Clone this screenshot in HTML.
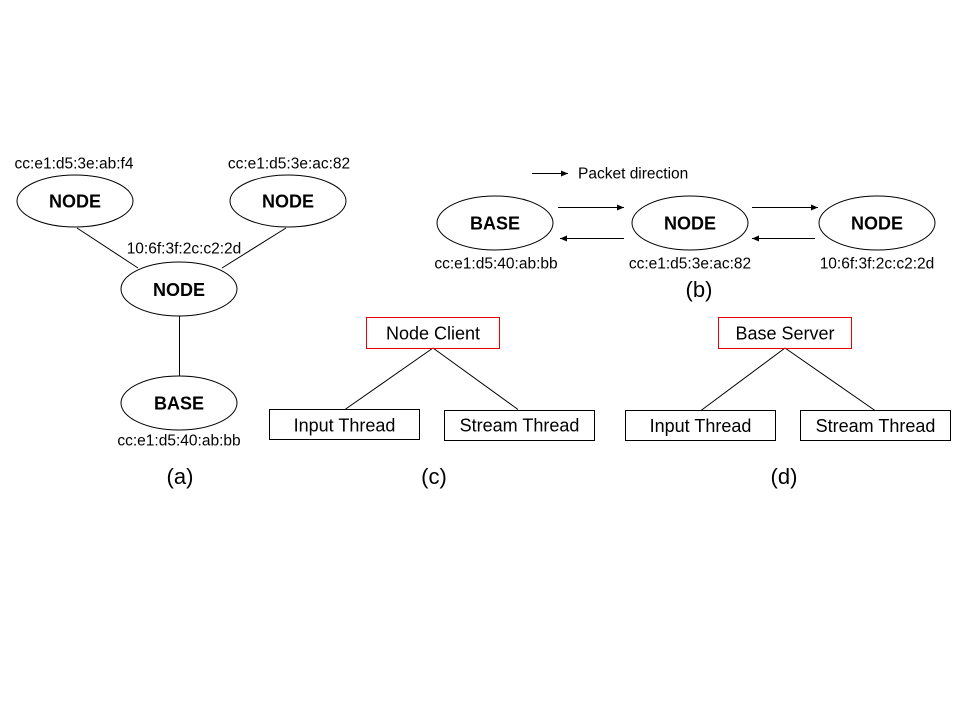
<!DOCTYPE html>
<html><head><meta charset="utf-8"><style>
html,body{margin:0;padding:0;background:#fff;}
svg{display:block;}
text{font-family:"Liberation Sans",Arial,sans-serif;fill:#000;}
.m{font-size:15.5px;}
.b{font-size:18px;font-weight:bold;}
.t{font-size:18px;}
.c{font-size:22px;}
</style></head><body>
<svg width="960" height="720" viewBox="0 0 960 720" xmlns="http://www.w3.org/2000/svg">
<defs>
<marker id="ah" markerWidth="8" markerHeight="6" refX="7" refY="3" orient="auto" markerUnits="userSpaceOnUse">
<path d="M0,0 L7,3 L0,6 z" fill="#000"/>
</marker>
</defs>
<g fill="none" stroke="#000" stroke-width="1">
<!-- (a) -->
<line x1="77" y1="228" x2="138" y2="268"/>
<line x1="286" y1="228" x2="222" y2="268"/>
<line x1="179.5" y1="316" x2="179.5" y2="376"/>
<ellipse cx="75" cy="201" rx="58" ry="26" fill="#fff"/>
<ellipse cx="288" cy="201" rx="58" ry="26" fill="#fff"/>
<ellipse cx="179" cy="289" rx="58" ry="27" fill="#fff"/>
<ellipse cx="179" cy="403" rx="58" ry="27" fill="#fff"/>
<!-- (b) -->
<ellipse cx="495" cy="223" rx="58" ry="27"/>
<ellipse cx="690" cy="223" rx="58" ry="27"/>
<ellipse cx="877" cy="223" rx="58" ry="27"/>
<line x1="532" y1="173.5" x2="568" y2="173.5" marker-end="url(#ah)"/>
<line x1="558" y1="207.5" x2="624" y2="207.5" marker-end="url(#ah)"/>
<line x1="624" y1="238.5" x2="560" y2="238.5" marker-end="url(#ah)"/>
<line x1="752" y1="207.5" x2="818" y2="207.5" marker-end="url(#ah)"/>
<line x1="815" y1="238.5" x2="752" y2="238.5" marker-end="url(#ah)"/>
<!-- (c) -->
<line x1="433" y1="348" x2="345" y2="409.5"/>
<line x1="433" y1="348" x2="518" y2="409.5"/>
<rect x="366.5" y="317.5" width="133" height="31" stroke="#e00"/>
<rect x="269.5" y="409.5" width="150" height="30"/>
<rect x="444.5" y="410.5" width="150" height="30"/>
<!-- (d) -->
<line x1="785" y1="348" x2="701" y2="410.5"/>
<line x1="785" y1="348" x2="875" y2="410.5"/>
<rect x="718.5" y="317.5" width="133" height="31" stroke="#e00"/>
<rect x="625.5" y="410.5" width="150" height="30"/>
<rect x="800.5" y="410.5" width="150" height="30"/>
</g>
<!-- (a) text -->
<text class="m" x="74" y="168.5" text-anchor="middle">cc:e1:d5:3e:ab:f4</text>
<text class="m" x="289" y="168.5" text-anchor="middle">cc:e1:d5:3e:ac:82</text>
<text class="b" x="75" y="207.5" text-anchor="middle">NODE</text>
<text class="b" x="288" y="207.5" text-anchor="middle">NODE</text>
<text class="m" x="184" y="253.5" text-anchor="middle">10:6f:3f:2c:c2:2d</text>
<text class="b" x="179" y="296" text-anchor="middle">NODE</text>
<text class="b" x="179" y="409.5" text-anchor="middle">BASE</text>
<text class="m" x="179" y="445.5" text-anchor="middle">cc:e1:d5:40:ab:bb</text>
<text class="c" x="180" y="484" text-anchor="middle">(a)</text>
<!-- (b) text -->
<text class="m" x="578" y="178.5">Packet direction</text>
<text class="b" x="495" y="229.5" text-anchor="middle">BASE</text>
<text class="b" x="690" y="229.5" text-anchor="middle">NODE</text>
<text class="b" x="877" y="229.5" text-anchor="middle">NODE</text>
<text class="m" x="496" y="268.5" text-anchor="middle">cc:e1:d5:40:ab:bb</text>
<text class="m" x="690" y="268.5" text-anchor="middle">cc:e1:d5:3e:ac:82</text>
<text class="m" x="877" y="268.5" text-anchor="middle">10:6f:3f:2c:c2:2d</text>
<text class="c" x="699" y="297" text-anchor="middle">(b)</text>
<!-- (c) text -->
<text class="t" x="433" y="339.5" text-anchor="middle">Node Client</text>
<text class="t" x="344.5" y="431.5" text-anchor="middle">Input Thread</text>
<text class="t" x="519.5" y="431.5" text-anchor="middle">Stream Thread</text>
<text class="c" x="434" y="484" text-anchor="middle">(c)</text>
<!-- (d) text -->
<text class="t" x="785" y="339.5" text-anchor="middle">Base Server</text>
<text class="t" x="700.5" y="432" text-anchor="middle">Input Thread</text>
<text class="t" x="875.5" y="432" text-anchor="middle">Stream Thread</text>
<text class="c" x="784" y="484" text-anchor="middle">(d)</text>
</svg>
</body></html>
